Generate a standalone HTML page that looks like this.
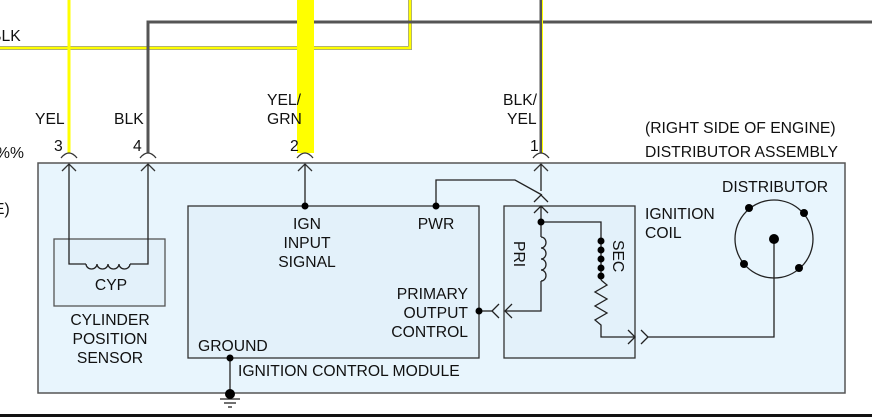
<!DOCTYPE html>
<html><head><style>
html,body{margin:0;padding:0;background:#fff;}
svg{display:block;}
text{font-family:"Liberation Sans",sans-serif;font-size:15.7px;fill:#111;}
</style></head><body>
<svg width="872" height="419" viewBox="0 0 872 419" xmlns="http://www.w3.org/2000/svg">
<rect x="38" y="163" width="807" height="230" fill="#e8f5fd" stroke="#555" stroke-width="1.5"/>
<polyline points="0,48 410,48 410,0" fill="none" stroke="#999" stroke-width="4"/>
<polyline points="0,48 410,48 410,0" fill="none" stroke="#ffff00" stroke-width="2.5"/>
<line x1="69" y1="0" x2="69" y2="153" stroke="#ffff00" stroke-width="3"/>
<polyline points="148,153 148,22 872,22" fill="none" stroke="#555" stroke-width="3"/>
<rect x="297" y="0" width="17" height="153" fill="#ffff00"/>
<line x1="541" y1="0" x2="541" y2="153" stroke="#555" stroke-width="3"/>
<line x1="542.5" y1="0" x2="542.5" y2="153" stroke="#ffff00" stroke-width="1"/>
<g fill="none" stroke="#333" stroke-width="1.3">
<path d="M61,158 Q69,148 77,158"/><path d="M140,158 Q148,148 156,158"/><path d="M297,158 Q305,148 313,158"/><path d="M533,158 Q541,148 549,158"/>
<path d="M62,171 L69,164 L76,171"/><path d="M141,171 L148,164 L155,171"/><path d="M298,171 L305,164 L312,171"/><path d="M534,171 L541,164 L548,171"/>
</g>
<text x="-9" y="41">BLK</text>
<text x="-4" y="158">%%</text>
<text x="-6" y="214">E)</text>
<text x="35" y="124">YEL</text>
<text x="114" y="124">BLK</text>
<text x="54" y="151">3</text>
<text x="133" y="151">4</text>
<text x="267" y="105">YEL/</text>
<text x="267" y="124">GRN</text>
<text x="290" y="151">2</text>
<text x="503" y="105">BLK/</text>
<text x="507" y="124">YEL</text>
<text x="530" y="151">1</text>
<text x="645" y="133">(RIGHT SIDE OF ENGINE)</text>
<text x="645" y="157">DISTRIBUTOR ASSEMBLY</text>
<rect x="54" y="239" width="111" height="67" fill="#e3f1fa" stroke="#555" stroke-width="1.3"/>
<g fill="none" stroke="#222" stroke-width="1.3">
<polyline points="69,164 69,264 86,264"/>
<polyline points="148,164 148,264 130,264"/>
<path d="M86,264 a5.5,5 0 0 0 11,0 a5.5,5 0 0 0 11,0 a5.5,5 0 0 0 11,0 a5.5,5 0 0 0 11,0"/>
</g>
<text x="111" y="290" text-anchor="middle">CYP</text>
<text x="110" y="325" text-anchor="middle">CYLINDER</text>
<text x="110" y="344" text-anchor="middle">POSITION</text>
<text x="110" y="363" text-anchor="middle">SENSOR</text>
<rect x="188" y="206" width="291" height="152" fill="#e3f1fa" stroke="#333" stroke-width="1.3"/>
<g fill="none" stroke="#222" stroke-width="1.3">
<line x1="305" y1="164" x2="305" y2="206"/>
<polyline points="436,206 436,180 515,180 542,195"/>
<line x1="541" y1="164" x2="541" y2="191"/>
<path d="M534,202 L541,195 L548,202"/>
<line x1="230" y1="358" x2="230" y2="394"/>
<line x1="220" y1="399" x2="240" y2="399"/><line x1="224" y1="403" x2="236" y2="403"/><line x1="228" y1="407" x2="232" y2="407"/>
</g>
<circle cx="305" cy="206" r="3.5" fill="#000"/>
<circle cx="436" cy="206" r="3.5" fill="#000"/>
<circle cx="230" cy="358" r="3.5" fill="#000"/>
<circle cx="230" cy="394" r="5" fill="#000"/>
<text x="307" y="229" text-anchor="middle">IGN</text>
<text x="307" y="248" text-anchor="middle">INPUT</text>
<text x="307" y="267" text-anchor="middle">SIGNAL</text>
<text x="436" y="229" text-anchor="middle">PWR</text>
<text x="468" y="299" text-anchor="end">PRIMARY</text>
<text x="468" y="318" text-anchor="end">OUTPUT</text>
<text x="468" y="337" text-anchor="end">CONTROL</text>
<text x="198" y="351">GROUND</text>
<text x="238" y="376">IGNITION CONTROL MODULE</text>
<rect x="504" y="206" width="131" height="152" fill="#e3f1fa" stroke="#333" stroke-width="1.3"/>
<g fill="none" stroke="#222" stroke-width="1.3">
<path d="M534,213 L541,206 L548,213"/>
<line x1="541" y1="206" x2="541" y2="237"/>
<polyline points="541,222 601,222 601,237"/>
<path d="M541,237 a5,5.5 0 0 1 0,11 a5,5.5 0 0 1 0,11 a5,5.5 0 0 1 0,11 a5,5.5 0 0 1 0,11"/>
<polyline points="541,281 541,311 505,311"/>
<path d="M512,304 L505,311 L512,318"/>
<path d="M499,304 L492,311 L499,318"/>
<line x1="479" y1="311" x2="492" y2="311"/>
<line x1="601" y1="237" x2="601" y2="280"/>
<polyline points="601,280 607,285 595,292 607,299 595,306 607,313 595,320 601,325 601,337 635,337"/>
<path d="M628,330 L635,337 L628,344"/>
<path d="M641,330 L648,337 L641,344"/>
<polyline points="648,337 774,337 774,239"/>
<circle cx="774" cy="239" r="39"/>
</g>
<g fill="#000">
<circle cx="541" cy="222" r="3.5"/>
<circle cx="479" cy="311" r="3.5"/>
<circle cx="601" cy="241" r="3.5"/><circle cx="601" cy="250" r="3.5"/><circle cx="601" cy="259" r="3.5"/><circle cx="601" cy="268" r="3.5"/><circle cx="601" cy="276" r="3.5"/>
<circle cx="774" cy="239" r="5"/>
<circle cx="749" cy="208" r="4"/><circle cx="804" cy="213" r="4"/><circle cx="744" cy="264" r="4"/><circle cx="799" cy="268" r="4"/>
</g>
<text transform="translate(514,241) rotate(90)">PRI</text>
<text transform="translate(613,240) rotate(90)">SEC</text>
<text x="645" y="219">IGNITION</text>
<text x="645" y="238">COIL</text>
<text x="722" y="192">DISTRIBUTOR</text>
<rect x="0" y="414" width="872" height="3" fill="#111"/>
</svg>
</body></html>
